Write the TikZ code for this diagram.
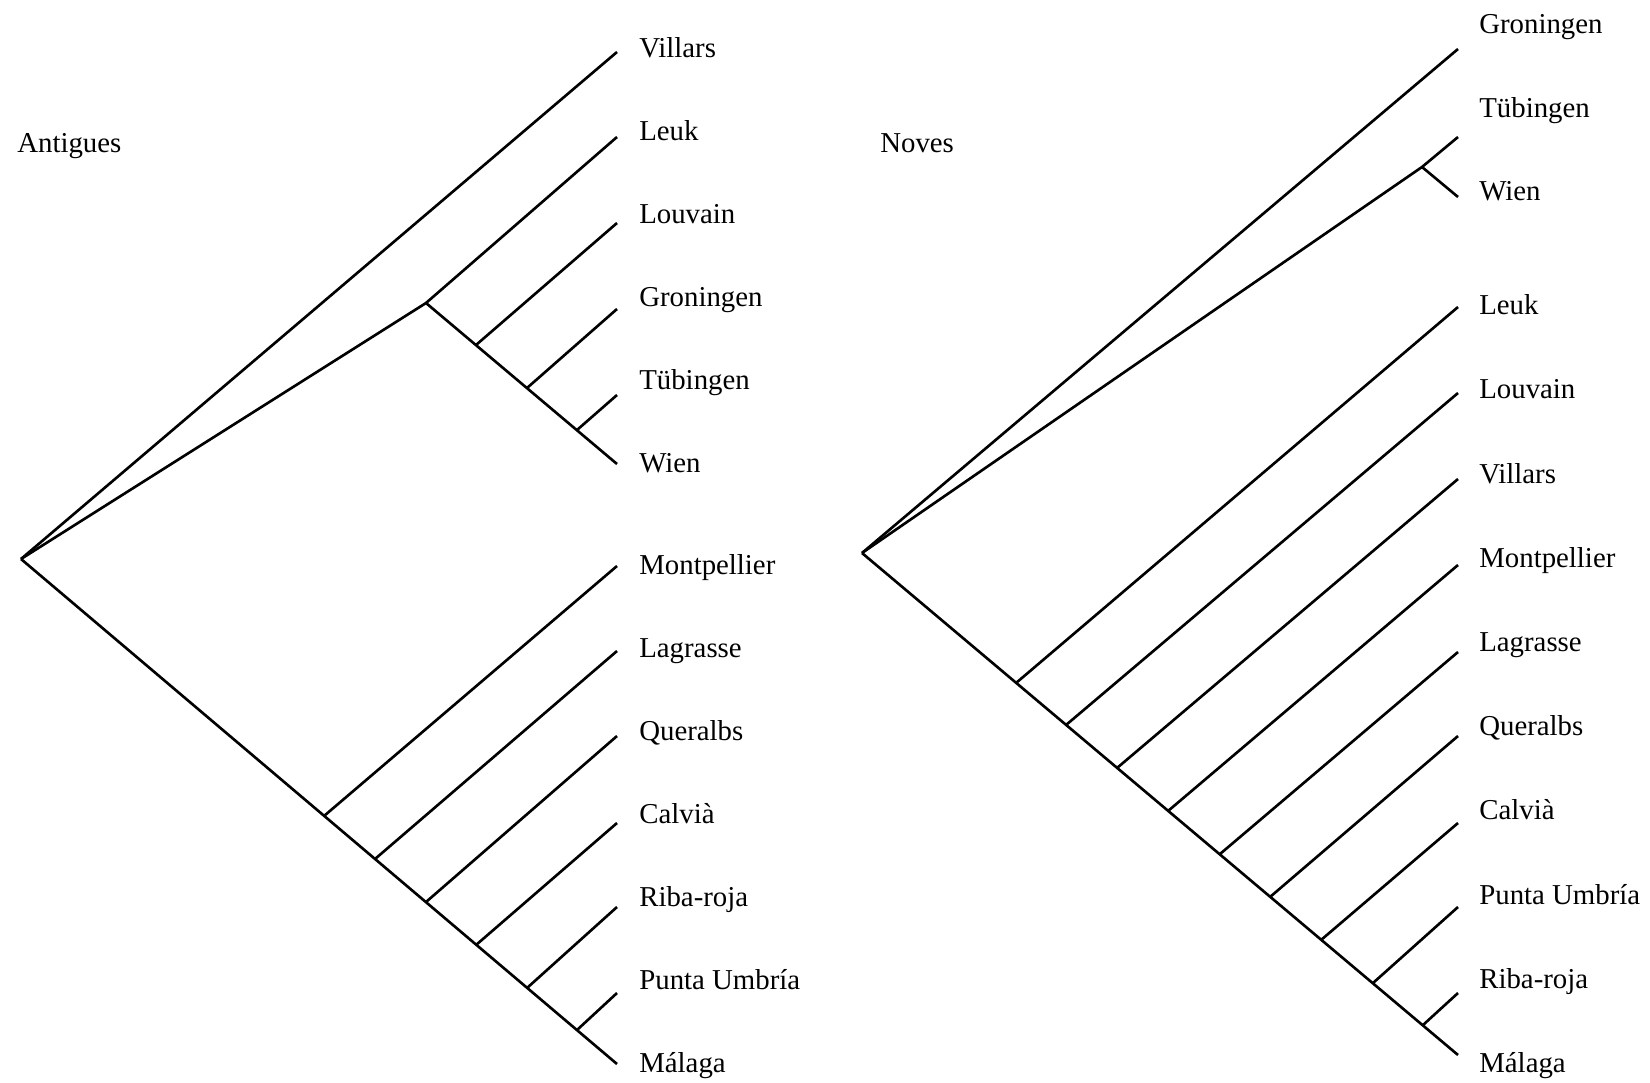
\documentclass[tikz,border=0pt]{standalone}
\usepackage{fontspec}
\setmainfont{Liberation Serif}
\begin{document}
\begin{tikzpicture}[x=0.02cm, y=-0.02cm, line width=1.5pt, line join=round,
  every node/.style={font=\fontsize{16.4}{20}\selectfont, anchor=base west, inner sep=0pt}]
	\useasboundingbox (0,0) rectangle (1650,1082);
	
	% 左树：Antigues
	\node (titleA) at (16,152) {Antigues};
	\coordinate (aRoot) at (21,559);
	\coordinate (aN) at (426,303);
	\foreach \t/\ty/\by [count=\i] in {Villars/52/57, Leuk/137/140, Louvain/223/223,
		Groningen/309/306, Tübingen/395/389, Wien/464/472, Montpellier/566/574,
		Lagrasse/651/657, Queralbs/736/740, Calvià/823/823, Riba-roja/907/906,
		Punta Umbría/993/989, Málaga/1064/1072}{
		\coordinate (a\i) at (617,\ty);
		\node (la\i) at (638,\by) {\t};
	}
	\draw (aRoot) -- (a1);
	\draw (aRoot) -- (aN) -- (a2);
	\draw (aN) -- (a6);
	\draw (aRoot) -- (a13);
	\foreach \i/\bx/\by in {3/476/345, 4/527/388, 5/577/430,
		7/324/816, 8/375/859, 9/426/902, 10/476/945, 11/527/988, 12/577/1030}{
		\coordinate (ab\i) at (\bx,\by);
		\draw (ab\i) -- (a\i);
	}
	
	% 右树：Noves
	\node (titleB) at (879,152) {Noves};
	\coordinate (bRoot) at (862,553);
	\coordinate (bN) at (1422,167);
	\foreach \t/\ty/\by [count=\i] in {Groningen/49/33, Tübingen/137/117, Wien/197/200,
		Leuk/307/314, Louvain/393/398, Villars/479/483, Montpellier/565/567,
		Lagrasse/652/651, Queralbs/736/735, Calvià/823/819, Punta Umbría/907/904,
		Riba-roja/993/988, Málaga/1055/1072}{
		\coordinate (b\i) at (1458,\ty);
		\node (lb\i) at (1478,\by) {\t};
	}
	\draw (bRoot) -- (b1);
	\draw (bRoot) -- (bN) -- (b2);
	\draw (bN) -- (b3);
	\draw (bRoot) -- (b13);
	\foreach \i/\bx/\by in {4/1016/683, 5/1066/725, 6/1117/768, 7/1168/811,
		8/1220/854, 9/1270/897, 10/1321/940, 11/1373/983, 12/1423/1025}{
		\coordinate (bb\i) at (\bx,\by);
		\draw (bb\i) -- (b\i);
	}
\end{tikzpicture}
\end{document}
